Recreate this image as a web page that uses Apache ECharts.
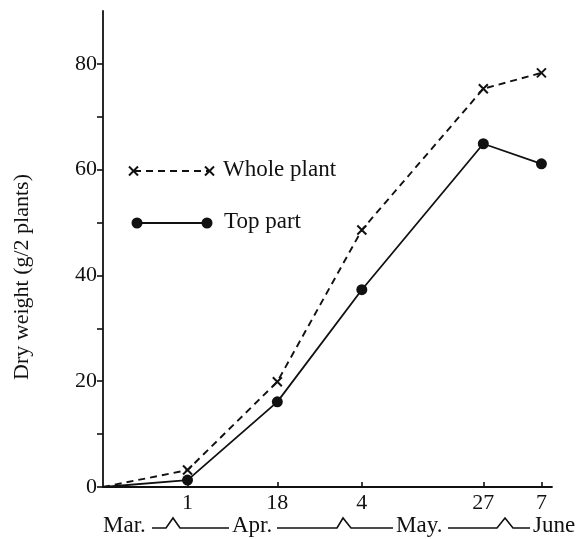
<!DOCTYPE html>
<html>
<head>
<meta charset="utf-8">
<script src="https://cdn.jsdelivr.net/npm/echarts@6/dist/echarts.min.js"></script>
<style>html,body{margin:0;padding:0;background:#fff;}#c{width:584px;height:539px;}</style>
</head>
<body>
<div id="c"></div>
<script>
// days counted from Mar. 16 (origin of the time axis)
var dayValues = [0, 16, 33, 49, 72, 83];
var tickDays = [16, 33, 49, 72, 83];
var tickLabels = ['1', '18', '4', '27', '7'];
var wholePlant = [0, 3.2, 19.9, 48.6, 75.3, 78.3];
var topPart = [0, 1.3, 16.1, 37.3, 64.9, 61.1];
var yTicks = [0, 10, 20, 30, 40, 50, 60, 70, 80];
var yLabels = [0, 20, 40, 60, 80];
var monthLabels = ['Mar.', 'Apr.', 'May.', 'June'];
var yTitle = 'Dry weight (g/2 plants)';

var FONT = '"Liberation Serif", "DejaVu Serif", serif';
var INK = '#111';

function pairs(vals) {
  return dayValues.map(function (d, i) { return [d, vals[i]]; });
}

var chart = echarts.init(document.getElementById('c'), null, {renderer: 'canvas'});

var cross = 'path://M0,0L10,10M10,0L0,10';

var monthY = 528;
var graphics = [
  // y axis title
  {type: 'text', x: 22, y: 277, rotation: Math.PI / 2,
   style: {text: yTitle, font: '22px ' + FONT, fill: INK, align: 'center', verticalAlign: 'middle'}},
  // month labels
  {type: 'text', left: 103, top: 514, style: {text: monthLabels[0], font: '23px ' + FONT, fill: INK}},
  {type: 'text', left: 232, top: 514, style: {text: monthLabels[1], font: '23px ' + FONT, fill: INK}},
  {type: 'text', left: 396, top: 514, style: {text: monthLabels[2], font: '23px ' + FONT, fill: INK}},
  {type: 'text', left: 533, top: 514, style: {text: monthLabels[3], font: '23px ' + FONT, fill: INK}},
  {type: 'polyline', shape: {points: [[152, monthY], [166, monthY], [173, 518], [180, monthY], [229, monthY]]}, style: {stroke: INK, lineWidth: 1.6, fill: null}},
  {type: 'polyline', shape: {points: [[277, monthY], [337, monthY], [343, 518], [351, monthY], [393, monthY]]}, style: {stroke: INK, lineWidth: 1.6, fill: null}},
  {type: 'polyline', shape: {points: [[448, monthY], [497, monthY], [505, 518], [513, monthY], [530, monthY]]}, style: {stroke: INK, lineWidth: 1.6, fill: null}},
  // legend: whole plant
  {type: 'line', shape: {x1: 134, y1: 171, x2: 209, y2: 171}, style: {stroke: INK, lineWidth: 1.8, lineDash: [7, 5]}},
  {type: 'polyline', shape: {points: [[129, 166.5], [138, 175.5]]}, style: {stroke: INK, lineWidth: 2}},
  {type: 'polyline', shape: {points: [[138, 166.5], [129, 175.5]]}, style: {stroke: INK, lineWidth: 2}},
  {type: 'polyline', shape: {points: [[205, 166.5], [214, 175.5]]}, style: {stroke: INK, lineWidth: 2}},
  {type: 'polyline', shape: {points: [[214, 166.5], [205, 175.5]]}, style: {stroke: INK, lineWidth: 2}},
  {type: 'text', left: 223, top: 158, style: {text: 'Whole plant', font: '23px ' + FONT, fill: INK}},
  // legend: top part
  {type: 'line', shape: {x1: 137, y1: 223, x2: 207, y2: 223}, style: {stroke: INK, lineWidth: 1.8}},
  {type: 'circle', shape: {cx: 137, cy: 223, r: 5.5}, style: {fill: INK}},
  {type: 'circle', shape: {cx: 207, cy: 223, r: 5.5}, style: {fill: INK}},
  {type: 'text', left: 224, top: 210, style: {text: 'Top part', font: '23px ' + FONT, fill: INK}}
];

var option = {
  backgroundColor: '#fff',
  animation: false,
  grid: {left: 103, right: 32, top: 11, bottom: 52, containLabel: false},
  xAxis: {
    type: 'value', min: 0, max: 85,
    axisLine: {show: true, lineStyle: {color: INK, width: 1.8}},
    axisTick: {show: true, inside: true, length: 5, customValues: tickDays, lineStyle: {color: INK, width: 1.6}},
    axisLabel: {
      show: true, margin: 5, customValues: tickDays,
      color: INK, fontFamily: FONT, fontSize: 22,
      formatter: function (v) { var i = tickDays.indexOf(v); return i >= 0 ? tickLabels[i] : ''; }
    },
    splitLine: {show: false}
  },
  yAxis: {
    type: 'value', min: 0, max: 90,
    axisLine: {show: true, lineStyle: {color: INK, width: 1.8}},
    axisTick: {show: true, inside: false, length: 6, customValues: yTicks, lineStyle: {color: INK, width: 1.6}},
    axisLabel: {show: true, margin: 6, customValues: yLabels, color: INK, fontFamily: FONT, fontSize: 22},
    splitLine: {show: false}
  },
  series: [
    {
      name: 'Whole plant', type: 'line',
      data: pairs(wholePlant).map(function (p, i) { return i === 0 ? {value: p, symbol: 'none'} : p; }),
      lineStyle: {color: INK, width: 1.9, type: [7, 5]},
      symbol: cross, symbolSize: 9,
      itemStyle: {color: 'rgba(0,0,0,0)', borderColor: INK, borderWidth: 2},
      showAllSymbol: true,
      z: 3
    },
    {
      name: 'Top part', type: 'line',
      data: pairs(topPart).map(function (p, i) { return i === 0 ? {value: p, symbol: 'none'} : p; }),
      lineStyle: {color: INK, width: 1.8},
      symbol: 'circle', symbolSize: 11,
      itemStyle: {color: INK, borderWidth: 0},
      z: 2
    }
  ],
  graphic: graphics
};
chart.setOption(option);
</script>
</body>
</html>
